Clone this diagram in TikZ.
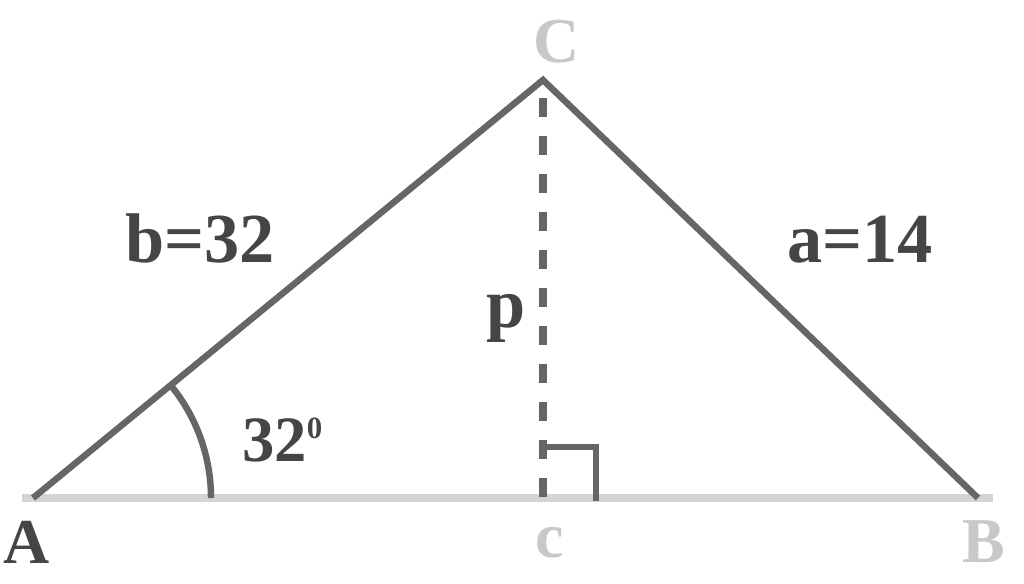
\documentclass[tikz,border=0pt]{standalone}
\usepackage{fontspec}
\setmainfont{Liberation Serif}
\usetikzlibrary{calc}
\definecolor{sidegray}{HTML}{666666}
\definecolor{basegray}{HTML}{D4D4D4}
\definecolor{textdark}{HTML}{454545}
\definecolor{textlight}{HTML}{C8C8C8}
\tikzset{
  side/.style={line width=4.6pt,sidegray},
  vertexlbl/.style={inner sep=0pt,anchor=base,font=\fontsize{45.5}{45.5}\selectfont\bfseries},
  sidelbl/.style={inner sep=0pt,textdark,font=\fontsize{50}{50}\selectfont\bfseries},
}
\begin{document}
\begin{tikzpicture}[x=0.25mm,y=-0.25mm]
    \useasboundingbox (0,0) rectangle (1024,583);
    \coordinate (A) at (33,498);
    \coordinate (B) at (978,498);
    \coordinate (C) at (543,80);
    \coordinate (H) at (543,498);
    \coordinate (baseL) at (22,498);
    \coordinate (baseR) at (993,498);
    \coordinate (Hd) at (543,98);
    % base and sides
    \draw[line width=5.7pt,basegray] (baseL) -- (baseR);
    \draw[side,line join=miter] (A) -- (C) -- (B);
    \draw[sidegray,line width=5pt,dash pattern=on 13.5pt off 13.5pt] (Hd) -- (H);
    \draw[side] (A) ++(178,0) arc (0:-39.3:178);
    \draw[side,line width=4.8pt] (H) ++(-2,-51) -- ++(55,0) -- ++(0,54);
    % labels
    \node[vertexlbl,textdark] (lA) at (27,563) {A};
    \node[vertexlbl,textlight] (lB) at (984,562) {B};
    \node[vertexlbl,textlight] (lC) at (557,63) {C};
    \node[vertexlbl,textlight] (lc) at (550,557) {c};
    \node[sidelbl,anchor=base] (lp) at (506,327) {p};
    \node[sidelbl,anchor=base west] (lb) at (125,262) {b=32};
    \node[sidelbl,anchor=base west] (la) at (787,262) {a=14};
    \node[inner sep=0pt,anchor=base west,textdark,font=\fontsize{46}{46}\selectfont\bfseries] (lang) at (242,461) {32\raisebox{16pt}{\fontsize{22}{22}\selectfont 0}};
\end{tikzpicture}
\end{document}
